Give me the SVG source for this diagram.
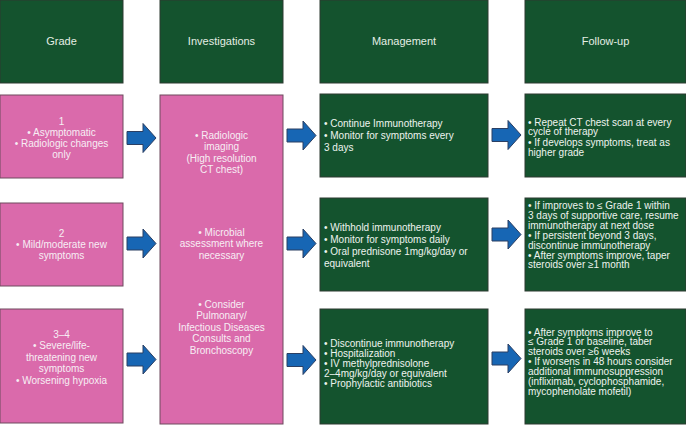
<svg xmlns="http://www.w3.org/2000/svg" xmlns:xlink="http://www.w3.org/1999/xlink" width="686" height="425" viewBox="0 0 686 425">
<style>
.g{fill:#14532e;stroke:#2c3a30;stroke-width:1}
.p{fill:#da6aab;stroke:#6f4a5f;stroke-width:1}
.h{font-family:"Liberation Sans",Arial,sans-serif;font-size:11px;fill:#e4eee4;text-anchor:middle}
.c{font-family:"Liberation Sans",Arial,sans-serif;font-size:10px;fill:#f7eef4;text-anchor:middle}
.l{font-family:"Liberation Sans",Arial,sans-serif;font-size:10px;fill:#eef3ee}
.a{fill:#1766b4;stroke:#2b3f63;stroke-width:1}
</style>
<defs>
<path id="arr" class="a" d="M0,-6.5 H16 V-14.5 L29,0 L16,14.5 V6.5 H0 Z"/>
</defs>
<rect width="686" height="425" fill="#ffffff"/>
<g id="hdr-grade"><rect class="g" x="0" y="0" width="123" height="83"/><text class="h" x="61.5" y="45">Grade</text></g>
<g id="hdr-investigations"><rect class="g" x="160" y="0" width="123" height="83"/><text class="h" x="221.5" y="45">Investigations</text></g>
<g id="hdr-management"><rect class="g" x="320" y="0" width="168" height="83"/><text class="h" x="404" y="45">Management</text></g>
<g id="hdr-followup"><rect class="g" x="525" y="0" width="161" height="83"/><text class="h" x="605.5" y="45">Follow-up</text></g>

<g id="grade1"><rect class="p" x="0" y="95" width="123" height="83"/>
<text class="c"><tspan x="61.5" y="124.5">1</tspan><tspan x="61.5" y="135.5">• Asymptomatic</tspan><tspan x="61.5" y="146.5">• Radiologic changes</tspan><tspan x="61.5" y="157.5">only</tspan></text></g>
<g id="grade2"><rect class="p" x="0" y="203" width="123" height="83"/>
<text class="c"><tspan x="61.5" y="236.5">2</tspan><tspan x="61.5" y="247.5">• Mild/moderate new</tspan><tspan x="61.5" y="258.5">symptoms</tspan></text></g>
<g id="grade34"><rect class="p" x="0" y="309" width="123" height="114"/>
<text class="c"><tspan x="61.5" y="337.5">3–4</tspan><tspan x="61.5" y="349">• Severe/life-</tspan><tspan x="61.5" y="360.5">threatening new</tspan><tspan x="61.5" y="372">symptoms</tspan><tspan x="61.5" y="383.5">• Worsening hypoxia</tspan></text></g>

<g id="investigations"><rect class="p" x="160" y="95" width="123" height="329"/>
<text class="c"><tspan x="221.5" y="138.5">• Radiologic</tspan><tspan x="221.5" y="150">imaging</tspan><tspan x="221.5" y="161.5">(High resolution</tspan><tspan x="221.5" y="173">CT chest)</tspan></text>
<text class="c"><tspan x="221.5" y="235.5">• Microbial</tspan><tspan x="221.5" y="247">assessment where</tspan><tspan x="221.5" y="258.5">necessary</tspan></text>
<text class="c"><tspan x="221.5" y="307.5">• Consider</tspan><tspan x="221.5" y="319">Pulmonary/</tspan><tspan x="221.5" y="330.5">Infectious Diseases</tspan><tspan x="221.5" y="342">Consults and</tspan><tspan x="221.5" y="353.5">Bronchoscopy</tspan></text></g>

<g id="mgmt1"><rect class="g" x="320" y="94" width="168" height="83"/>
<text class="l"><tspan x="324" y="126.5">• Continue Immunotherapy</tspan><tspan x="324" y="138.5">• Monitor for symptoms every</tspan><tspan x="324" y="150.5">3 days</tspan></text></g>
<g id="mgmt2"><rect class="g" x="320" y="198" width="168" height="93"/>
<text class="l"><tspan x="324" y="230.5">• Withhold immunotherapy</tspan><tspan x="324" y="242.5">• Monitor for symptoms daily</tspan><tspan x="324" y="254.5">• Oral prednisone 1mg/kg/day or</tspan><tspan x="324" y="266.5">equivalent</tspan></text></g>
<g id="mgmt3"><rect class="g" x="320" y="309" width="168" height="115"/>
<text class="l"><tspan x="324" y="346.5">• Discontinue immunotherapy</tspan><tspan x="324" y="356.5">• Hospitalization</tspan><tspan x="324" y="366.5">• IV methylprednisolone</tspan><tspan x="324" y="376.5">2–4mg/kg/day or equivalent</tspan><tspan x="324" y="386.5">• Prophylactic antibiotics</tspan></text></g>

<g id="follow1"><rect class="g" x="525" y="94" width="161" height="83"/>
<text class="l"><tspan x="528" y="125.5">• Repeat CT chest scan at every</tspan><tspan x="528" y="135">cycle of therapy</tspan><tspan x="528" y="145.5">• If develops symptoms, treat as</tspan><tspan x="528" y="155.5">higher grade</tspan></text></g>
<g id="follow2"><rect class="g" x="525" y="198" width="161" height="93"/>
<text class="l"><tspan x="528" y="208.5">• If improves to ≤ Grade 1 within</tspan><tspan x="528" y="218.5">3 days of supportive care, resume</tspan><tspan x="528" y="228.5">immunotherapy at next dose</tspan><tspan x="528" y="238.5">• If persistent beyond 3 days,</tspan><tspan x="528" y="248.5">discontinue immunotherapy</tspan><tspan x="528" y="258.5">• After symptoms improve, taper</tspan><tspan x="528" y="268">steroids over ≥1 month</tspan></text></g>
<g id="follow3"><rect class="g" x="525" y="309" width="161" height="115"/>
<text class="l"><tspan x="528" y="335.5">• After symptoms improve to</tspan><tspan x="528" y="345">≤ Grade 1 or baseline, taber</tspan><tspan x="528" y="355">steroids over ≥6 weeks</tspan><tspan x="528" y="365">• If worsens in 48 hours consider</tspan><tspan x="528" y="375">additional immunosuppression</tspan><tspan x="528" y="385">(infliximab, cyclophosphamide,</tspan><tspan x="528" y="395">mycophenolate mofetil)</tspan></text></g>

<g id="connectors">
<use xlink:href="#arr" href="#arr" transform="translate(127,138)"/>
<use xlink:href="#arr" href="#arr" transform="translate(287,135.5)"/>
<use xlink:href="#arr" href="#arr" transform="translate(492,135)"/>
<use xlink:href="#arr" href="#arr" transform="translate(127,243.5)"/>
<use xlink:href="#arr" href="#arr" transform="translate(287,243.5)"/>
<use xlink:href="#arr" href="#arr" transform="translate(492,234.5)"/>
<use xlink:href="#arr" href="#arr" transform="translate(127,359.5)"/>
<use xlink:href="#arr" href="#arr" transform="translate(287,360)"/>
<use xlink:href="#arr" href="#arr" transform="translate(492,358.5)"/>
</g>
</svg>
